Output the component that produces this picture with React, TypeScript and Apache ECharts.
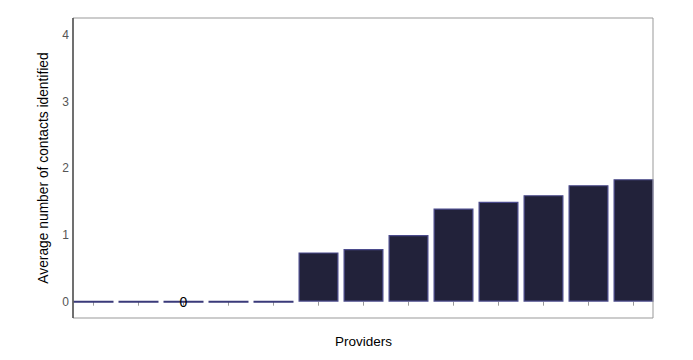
import React, { useEffect, useRef } from "react";
import * as echarts from "echarts";

const providers = ["P1","P2","P3","P4","P5","P6","P7","P8","P9","P10","P11","P12","P13"];
const avgContacts = [0, 0, 0, 0, 0, 0.74, 0.79, 1.0, 1.4, 1.5, 1.6, 1.75, 1.84];
const yTicks = [0, 1, 2, 3, 4];
const labelledIndex = 2;

export default function App() {
  const ref = useRef<HTMLDivElement>(null);
  useEffect(() => {
    if (!ref.current) return;
    const chart = echarts.init(ref.current, null, { renderer: "svg" });
    const font = "'Liberation Sans', Arial, sans-serif";
    chart.setOption({
      animation: false,
      textStyle: { fontFamily: font },
      grid: { left: 71, right: 37, top: 18, bottom: 42 },
      xAxis: {
        type: "category",
        data: providers,
        name: "Providers",
        nameLocation: "middle",
        nameGap: 16,
        nameTextStyle: { fontSize: 13.5, color: "#000", fontFamily: font },
        axisLine: { show: false },
        axisTick: { show: true, alignWithLabel: true, length: 4, lineStyle: { color: "#999" } },
        axisLabel: { show: false },
      },
      yAxis: {
        type: "value",
        min: -0.245,
        max: 4.26,
        name: "Average number of contacts identified",
        nameLocation: "middle",
        nameGap: 21,
        nameTextStyle: { fontSize: 13.8, color: "#000", fontFamily: font },
        axisLine: { show: false },
        axisTick: { show: false },
        splitLine: { show: false },
        axisLabel: {
          customValues: yTicks,
          margin: 2,
          fontSize: 12,
          color: "#555",
          fontFamily: font,
        },
      },
      graphic: [
        {
          type: "rect",
          shape: { x: 73, y: 18, width: 580, height: 300 },
          style: { fill: "none", stroke: "#999", lineWidth: 1 },
          z: 10,
        },
        {
          type: "line",
          shape: { x1: 73, y1: 18, x2: 73, y2: 318 },
          style: { stroke: "#333", lineWidth: 1.2 },
          z: 11,
        },
      ],
      series: [
        {
          type: "bar",
          data: avgContacts.map((v, i) => {
            const item: any = { value: v };
            if (v === 0) {
              item.itemStyle = { borderColor: "#3a3a7a", borderWidth: 2 };
            }
            if (i === labelledIndex) {
              item.label = {
                show: true,
                position: "inside",
                formatter: "0",
                color: "#000",
                fontSize: 14,
                fontFamily: font,
              };
            }
            return item;
          }),
          barWidth: 40,
          itemStyle: { color: "#22223a", borderColor: "#4b4b8c", borderWidth: 1.2 },
        },
      ],
    });
    return () => chart.dispose();
  }, []);
  return <div ref={ref} style={{ width: 693, height: 360, position: "absolute", left: 0, top: 0 }} />;
}
